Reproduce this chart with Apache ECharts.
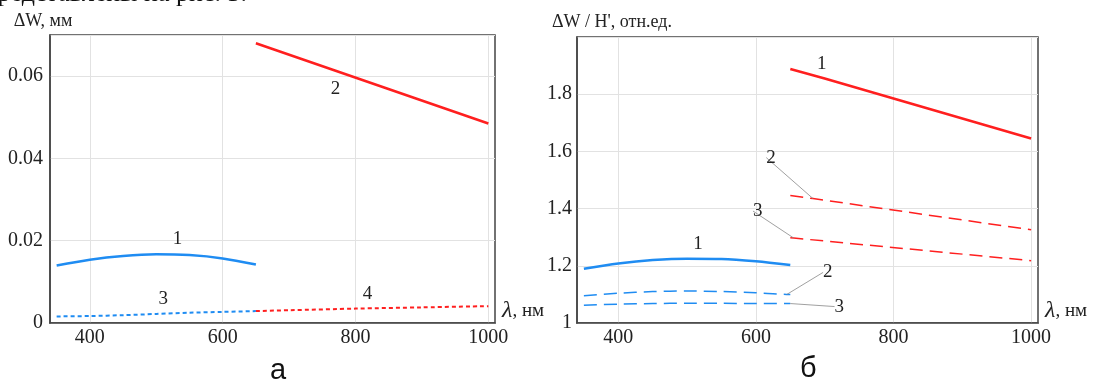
<!DOCTYPE html>
<html>
<head>
<meta charset="utf-8">
<script src="https://cdn.jsdelivr.net/npm/echarts@6/dist/echarts.min.js"></script>
<style>
  html, body { margin: 0; padding: 0; background: #fff; }
  #chart { width: 1099px; height: 381px; }
</style>
</head>
<body>
<div id="chart"></div>
<script>
// wavelength ticks, nm
const xTicks = [400, 600, 800, 1000];

// panel a: ΔW, mm
const aCurve1 = [[350, 0.0140], [400, 0.0154], [450, 0.0163], [500, 0.0167], [550, 0.0165], [600, 0.0157], [650, 0.0142]];
const aCurve2 = [[650, 0.0680], [770, 0.0613], [1000, 0.0485]];
const aCurve3 = [[350, 0.0016], [400, 0.0017], [450, 0.0019], [500, 0.0022], [550, 0.0025], [600, 0.0027], [650, 0.0029]];
const aCurve4 = [[650, 0.0029], [700, 0.0031], [800, 0.0035], [900, 0.0038], [1000, 0.0041]];

// panel б: ΔW / H', rel. units
const bRed1 = [[650, 1.888], [700, 1.855], [1000, 1.645]];
const bRed2 = [[650, 1.446], [683, 1.435], [1000, 1.326]];
const bRed3 = [[650, 1.298], [655, 1.297], [1000, 1.218]];
const bBlue1 = [[350, 1.190], [400, 1.208], [450, 1.220], [500, 1.225], [550, 1.224], [600, 1.216], [650, 1.203]];
const bBlue2 = [[350, 1.095], [400, 1.104], [450, 1.110], [500, 1.112], [550, 1.110], [600, 1.106], [645, 1.100], [650, 1.100]];
const bBlue3 = [[350, 1.062], [400, 1.066], [450, 1.068], [500, 1.069], [550, 1.069], [600, 1.068], [650, 1.068]];

const RED = "#ff1f1f";
const BLUE = "#1f8cf2";
const SERIF = "Liberation Serif";

const chart = echarts.init(document.getElementById("chart"));

// puts a number label on one point of a curve
const tag = (pts, x, text, extra) =>
  pts.map((p) =>
    p[0] === x
      ? { value: p, label: Object.assign({ show: true, formatter: text }, extra) }
      : p
  );

const xAxisCfg = (gridIndex) => ({
  type: "value",
  gridIndex,
  min: 340,
  max: 1010,
  axisLine: { show: true, lineStyle: { color: "#444", width: 1.5 } },
  axisTick: { show: false, customValues: xTicks },
  axisLabel: {
    customValues: xTicks,
    formatter: (v) => String(v),
    fontFamily: SERIF,
    fontSize: 20,
    color: "#222",
    margin: 5,
  },
  splitLine: { show: true, lineStyle: { color: "#e2e2e2" } },
  name: "{l|λ}{t|, нм}",
  nameLocation: "end",
  nameGap: 7,
  nameTextStyle: {
    verticalAlign: "bottom",
    rich: {
      l: { fontFamily: SERIF, fontStyle: "italic", fontSize: 24, color: "#222" },
      t: { fontFamily: SERIF, fontSize: 19, color: "#222" },
    },
  },
});

const line = (data, color, x, y, opts) =>
  Object.assign(
    {
      type: "line",
      xAxisIndex: x,
      yAxisIndex: y,
      data,
      symbol: "circle",
      symbolSize: 0,
      silent: true,
      smooth: 0.3,
      lineStyle: { color, width: 2.5 },
      itemStyle: { color },
      label: { fontFamily: SERIF, fontSize: 19, color: "#222" },
      animation: false,
    },
    opts
  );

const leader = { show: true, lineStyle: { color: "#888", width: 0.8 } };

chart.setOption({
  animation: false,
  grid: [
    { left: 50, top: 35, width: 445, height: 288, show: true, borderColor: "#444", borderWidth: 1.5 },
    { left: 577, top: 37, width: 461, height: 286, show: true, borderColor: "#444", borderWidth: 1.5 },
  ],
  xAxis: [xAxisCfg(0), xAxisCfg(1)],
  yAxis: [
    {
      type: "value",
      gridIndex: 0,
      min: 0,
      max: 0.07,
      interval: 0.02,
      axisLine: { show: true, lineStyle: { color: "#444", width: 1.5 } },
      axisTick: { show: false },
      axisLabel: { showMaxLabel: false, fontFamily: SERIF, fontSize: 20, color: "#222", margin: 7 },
      splitLine: { lineStyle: { color: "#e2e2e2" } },
      name: "ΔW, мм",
      nameLocation: "end",
      nameGap: 5,
      nameTextStyle: { fontFamily: SERIF, fontSize: 18, color: "#222", align: "center", padding: [0, 14, 0, 0] },
    },
    {
      type: "value",
      gridIndex: 1,
      min: 1,
      max: 2,
      interval: 0.2,
      axisLine: { show: true, lineStyle: { color: "#444", width: 1.5 } },
      axisTick: { show: false },
      axisLabel: { showMaxLabel: false, fontFamily: SERIF, fontSize: 20, color: "#222", margin: 5 },
      splitLine: { lineStyle: { color: "#e2e2e2" } },
      name: "ΔW / H', отн.ед.",
      nameLocation: "end",
      nameGap: 6,
      nameTextStyle: { fontFamily: SERIF, fontSize: 18, color: "#222", align: "center", padding: [0, 0, 0, 70] },
    },
  ],
  series: [
    line(tag(aCurve1, 550, "1", { position: "top", offset: [-12, -2] }), BLUE, 0, 0),
    line(tag(aCurve2, 770, "2", { position: "bottom", offset: [0, 4] }), RED, 0, 0, { smooth: false }),
    line(tag(aCurve3, 500, "3", { position: "top", offset: [7, 0] }), BLUE, 0, 0, {
      lineStyle: { color: BLUE, width: 2, type: [4, 3] },
    }),
    line(tag(aCurve4, 800, "4", { position: "top", offset: [12, 0] }), RED, 0, 0, {
      lineStyle: { color: RED, width: 2, type: [4, 3] },
    }),

    line(tag(bRed1, 700, "1", { position: "top", offset: [-3, 0] }), RED, 1, 1, { smooth: false }),
    line(tag(bRed2, 683, "2", { position: "inside" }), RED, 1, 1, {
      smooth: false,
      lineStyle: { color: RED, width: 1.5, type: [13, 7] },
      labelLayout: { dx: -42, dy: -41 },
      labelLine: leader,
    }),
    line(tag(bRed3, 655, "3", { position: "inside" }), RED, 1, 1, {
      smooth: false,
      lineStyle: { color: RED, width: 1.5, type: [13, 7] },
      labelLayout: { dx: -36, dy: -27 },
      labelLine: leader,
    }),
    line(tag(bBlue1, 500, "1", { position: "top", offset: [11, 0] }), BLUE, 1, 1),
    line(tag(bBlue2, 645, "2", { position: "inside" }), BLUE, 1, 1, {
      lineStyle: { color: BLUE, width: 1.5, type: [13, 7] },
      labelLayout: { dx: 41, dy: -22 },
      labelLine: leader,
    }),
    line(tag(bBlue3, 650, "3", { position: "inside" }), BLUE, 1, 1, {
      lineStyle: { color: BLUE, width: 1.5, type: [13, 7] },
      labelLayout: { dx: 49, dy: 3 },
      labelLine: leader,
    }),
  ],
  graphic: [
    {
      type: "text",
      right: 1099 - 247,
      top: -19,
      style: { text: "представлены на рис. 3.", font: "26px 'Liberation Serif'", fill: "#111" },
    },
    {
      type: "text",
      left: 270,
      top: 356,
      style: { text: "а", font: "29px 'Liberation Sans'", fill: "#111" },
    },
    {
      type: "text",
      left: 800,
      top: 354,
      style: { text: "б", font: "29px 'Liberation Sans'", fill: "#111" },
    },
  ],
});
</script>
</body>
</html>
